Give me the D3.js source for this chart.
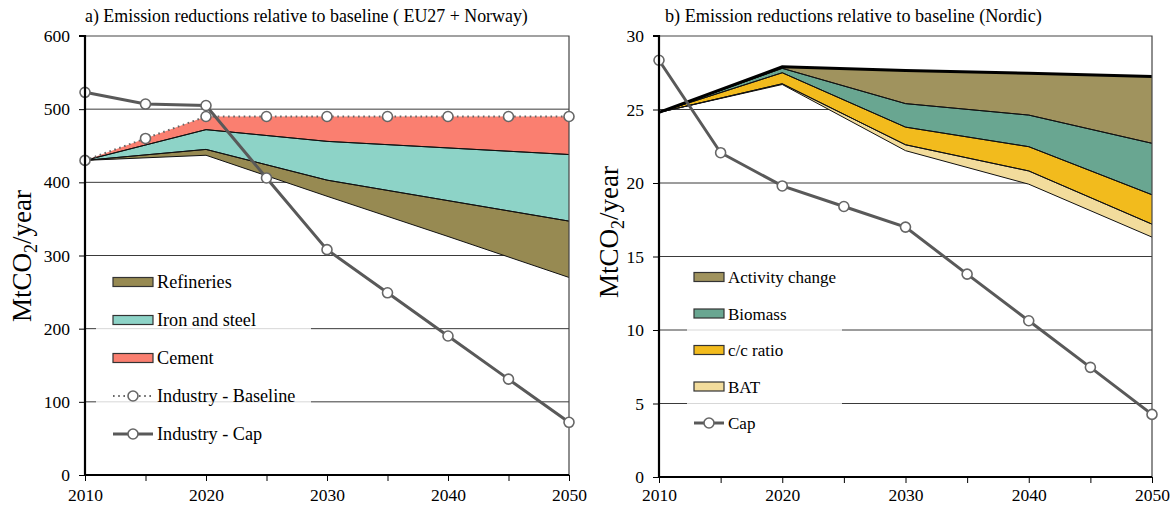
<!doctype html>
<html lang="en">
<head>
<meta charset="utf-8">
<title>Emission reductions relative to baseline</title>
<script src="https://cdn.jsdelivr.net/npm/d3@7"></script>
<style>
    body { margin: 0; background: #fff; }
    svg { display: block; font-family: "Liberation Serif", "Times New Roman", serif; }
</style>
</head>
<body>
<svg id="chart" width="1175" height="508"></svg>

<script>
    // ---- data ----
    // a) EU27 + Norway, area boundaries given per decade
    const yearsDec = [2010, 2020, 2030, 2040, 2050];
    const euBaseline = [430, 490, 490, 490, 490];
    const euCement = [0, 18, 34, 43, 52];
    const euIronSteel = [0, 27, 53, 72, 91];
    const euRefineries = [0, 8, 22, 49, 77];

    const years5 = [2010, 2015, 2020, 2025, 2030, 2035, 2040, 2045, 2050];
    const euBaselineLine = [430, 460, 490, 490, 490, 490, 490, 490, 490];
    const euCap = [523, 507, 505, 406, 308, 249, 190, 131, 72];

    // b) Nordic
    const noBaseline = [24.8, 27.9, 27.65, 27.47, 27.25];
    const noActivity = [0, 0.1, 2.25, 2.85, 4.55];
    const noBiomass = [0, 0.3, 1.6, 2.15, 3.5];
    const noCcRatio = [0, 0.75, 1.2, 1.65, 2.0];
    const noBAT = [0, 0.05, 0.4, 0.9, 0.88];
    const noCap = [28.35, 22.06, 19.8, 18.4, 17.0, 13.8, 10.63, 7.46, 4.26];

    const yTicksA = [0, 100, 200, 300, 400, 500, 600];
    const yTicksB = [0, 5, 10, 15, 20, 25, 30];
    const xLabels = [2010, 2020, 2030, 2040, 2050];

    const svg = d3.select("#chart");
    const serif = "Liberation Serif, Times New Roman, serif";

    // turn reductions into stacked boundaries (top -> down)
    function stackDown(top, parts) {
        let cur = top.slice();
        const bands = [];
        parts.forEach(function (p) {
            const low = cur.map(function (v, i) { return v - p[i]; });
            bands.push({ hi: cur, lo: low });
            cur = low;
        });
        return bands;
    }

    function drawPanel(cfg) {
        const x = d3.scaleLinear().domain([2010, 2050]).range([cfg.left, cfg.right]);
        const y = d3.scaleLinear().domain([0, cfg.ymax]).range([cfg.bottom, cfg.top]);
        const g = svg.append("g");

        // gridlines
        g.append("g").selectAll("line")
            .data(cfg.yTicks.filter(function (d) { return d > 0 && d < cfg.ymax; }))
            .join("line")
            .attr("x1", cfg.left).attr("x2", cfg.right)
            .attr("y1", d => y(d)).attr("y2", d => y(d))
            .attr("stroke", "#3a3a3a").attr("stroke-width", 1);

        // legend backdrop fades gridlines
        g.append("rect")
            .attr("x", cfg.legBox[0]).attr("y", cfg.legBox[1])
            .attr("width", cfg.legBox[2]).attr("height", cfg.legBox[3])
            .attr("fill", "#fff").attr("fill-opacity", 0.8);

        // stacked areas
        const bands = stackDown(cfg.baseline, cfg.parts);
        const area = d3.area()
            .x((d, i) => x(yearsDec[i]))
            .y0(d => y(d[0]))
            .y1(d => y(d[1]));
        bands.forEach(function (b, k) {
            const pts = b.hi.map((v, i) => [b.lo[i], v]);
            g.append("path")
                .attr("d", area(pts))
                .attr("fill", cfg.colors[k]);
        });

        // boundary lines
        const line = d3.line().x((d, i) => x(yearsDec[i])).y(d => y(d));
        bands.forEach(function (b, k) {
            if (k > 0 || cfg.strokeTop) {
                g.append("path").attr("d", line(b.hi))
                    .attr("fill", "none").attr("stroke", "#111").attr("stroke-width", 1);
            }
            g.append("path").attr("d", line(b.lo))
                .attr("fill", "none").attr("stroke", "#111").attr("stroke-width", 1);
        });

        if (cfg.thickTop) {
            g.append("path").attr("d", line(cfg.baseline))
                .attr("fill", "none").attr("stroke", "#000").attr("stroke-width", 3);
        }

        // frame: thin top/right
        g.append("path")
            .attr("d", d3.line()([[cfg.left, cfg.top], [cfg.right, cfg.top], [cfg.right, cfg.bottom]]))
            .attr("fill", "none").attr("stroke", "#444").attr("stroke-width", 1.2);

        const line5 = d3.line().x((d, i) => x(years5[i])).y(d => y(d));

        // baseline dotted line with markers
        if (cfg.baseLine) {
            g.append("path").attr("d", line5(cfg.baseLine))
                .attr("fill", "none").attr("stroke", "#666").attr("stroke-width", 2)
                .attr("stroke-dasharray", "1.6,3.6");
            g.append("g").selectAll("circle").data(cfg.baseLine).join("circle")
                .attr("cx", (d, i) => x(years5[i])).attr("cy", d => y(d)).attr("r", 5)
                .attr("fill", "#fff").attr("stroke", "#666").attr("stroke-width", 1.6);
        }

        // cap line
        g.append("path").attr("d", line5(cfg.cap))
            .attr("fill", "none").attr("stroke", "#595959").attr("stroke-width", 3);
        g.append("g").selectAll("circle").data(cfg.cap).join("circle")
            .attr("cx", (d, i) => x(years5[i])).attr("cy", d => y(d)).attr("r", 5)
            .attr("fill", "#fff").attr("stroke", "#666").attr("stroke-width", 1.6);

        // axes
        const yAxis = d3.axisLeft(y).tickValues(cfg.yTicks).tickSize(6).tickPadding(9);
        const ya = g.append("g").attr("transform", `translate(${cfg.left},0)`).call(yAxis);
        const xAxis = d3.axisBottom(x).tickValues(years5).tickSize(6).tickPadding(cfg.xPad)
            .tickFormat(d => xLabels.indexOf(d) >= 0 ? d : "");
        const xa = g.append("g").attr("transform", `translate(0,${cfg.bottom})`).call(xAxis);
        [ya, xa].forEach(function (a) {
            a.attr("font-family", serif);
            a.select(".domain").attr("stroke", "#000").attr("stroke-width", 2.2);
            a.selectAll(".tick line").attr("stroke", "#000").attr("stroke-width", 1);
            a.selectAll("text").attr("font-size", 17.5).attr("fill", "#000");
        });
        ya.select(".domain").attr("d", `M-6,${cfg.top}H0V${cfg.bottom}`);
        xa.select(".domain").attr("d", `M${cfg.left - 1},0H${cfg.right}`);

        // title
        g.append("text").attr("x", cfg.titleX).attr("y", 22)
            .attr("font-size", cfg.titleFont).text(cfg.title);

        // y-axis title
        const yt = g.append("text")
            .attr("transform", `translate(${cfg.ylabX},${cfg.ylabY}) rotate(-90)`)
            .attr("text-anchor", "middle").attr("font-size", 27);
        yt.append("tspan").text("MtCO");
        yt.append("tspan").attr("font-size", 18).attr("dy", 6).text("2");
        yt.append("tspan").attr("dy", -6).text("/year");

        // legend
        const leg = g.append("g");
        cfg.legend.forEach(function (item, i) {
            const cy = cfg.legY + i * cfg.legStep;
            const x0 = cfg.legX, x1 = cfg.legX + cfg.swW;
            if (item.type === "area") {
                leg.append("rect").attr("x", x0).attr("y", cy - 4.5)
                    .attr("width", cfg.swW).attr("height", 9)
                    .attr("fill", item.color).attr("stroke", "#333").attr("stroke-width", 1.2);
            } else {
                leg.append("line").attr("x1", x0).attr("x2", x1).attr("y1", cy).attr("y2", cy)
                    .attr("stroke", item.type === "dot" ? "#666" : "#595959")
                    .attr("stroke-width", item.type === "dot" ? 2 : 3)
                    .attr("stroke-dasharray", item.type === "dot" ? "1.6,3.6" : null);
                leg.append("circle").attr("cx", (x0 + x1) / 2).attr("cy", cy).attr("r", 5)
                    .attr("fill", "#fff").attr("stroke", "#666").attr("stroke-width", 1.6);
            }
            leg.append("text").attr("x", x1 + 4).attr("y", cy + 6)
                .attr("font-size", cfg.legFont).text(item.label);
        });
    }

    drawPanel({
        left: 85, right: 569, top: 36, bottom: 475, ymax: 600,
        yTicks: yTicksA, xPad: 8,
        baseline: euBaseline,
        parts: [euCement, euIronSteel, euRefineries],
        colors: ["#fa7f70", "#8dd3c7", "#978a52"],
        strokeTop: false, thickTop: false,
        baseLine: euBaselineLine,
        cap: euCap,
        title: "a) Emission reductions relative to baseline ( EU27 + Norway)",
        titleX: 85, titleFont: 17.9,
        ylabX: 31, ylabY: 256,
        legBox: [96, 264, 215, 186],
        legX: 113, legY: 282, legStep: 38, swW: 40, legFont: 18.2,
        legend: [
            { type: "area", color: "#978a52", label: "Refineries" },
            { type: "area", color: "#8dd3c7", label: "Iron and steel" },
            { type: "area", color: "#fa7f70", label: "Cement" },
            { type: "dot", label: "Industry - Baseline" },
            { type: "line", label: "Industry - Cap" }
        ]
    });

    drawPanel({
        left: 659, right: 1152, top: 36, bottom: 477, ymax: 30,
        yTicks: yTicksB, xPad: 6,
        baseline: noBaseline,
        parts: [noActivity, noBiomass, noCcRatio, noBAT],
        colors: ["#a0935e", "#69a691", "#f2bb1d", "#f2dc9c"],
        strokeTop: true, thickTop: true,
        baseLine: null,
        cap: noCap,
        title: "b) Emission reductions relative to baseline (Nordic)",
        titleX: 665, titleFont: 18.2,
        ylabX: 618, ylabY: 232,
        legBox: [687, 262, 155, 178],
        legX: 694, legY: 277, legStep: 36.5, swW: 30, legFont: 17,
        legend: [
            { type: "area", color: "#a0935e", label: "Activity change" },
            { type: "area", color: "#69a691", label: "Biomass" },
            { type: "area", color: "#f2bb1d", label: "c/c ratio" },
            { type: "area", color: "#f2dc9c", label: "BAT" },
            { type: "line", label: "Cap" }
        ]
    });
</script>
</body>
</html>
